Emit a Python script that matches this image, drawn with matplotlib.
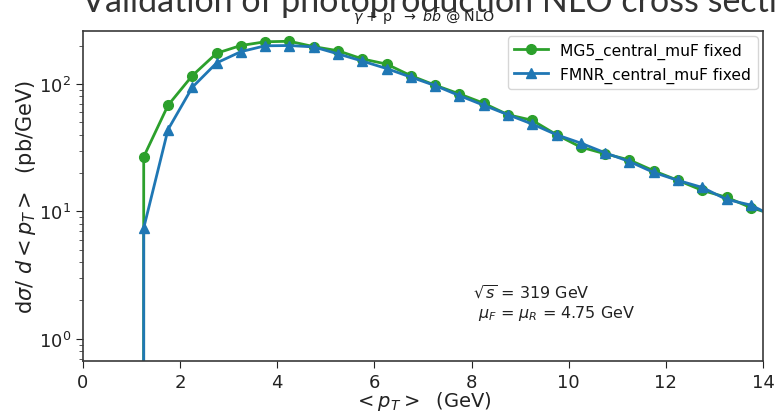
import matplotlib
matplotlib.use('Agg')
import matplotlib.pyplot as plt
import numpy as np

# pT bin centres (GeV); the first bin is empty for both generators
pt_bins = [0.75, 1.25, 1.75, 2.25, 2.75, 3.25, 3.75, 4.25, 4.75, 5.25, 5.75,
           6.25, 6.75, 7.25, 7.75, 8.25, 8.75, 9.25, 9.75, 10.25, 10.75,
           11.25, 11.75, 12.25, 12.75, 13.25, 13.75, 14.25]

# dsigma/dpT in pb/GeV
mg5_xsec = [0.0, 26.8, 67.9, 116.0, 174.0, 200.0, 214.0, 216.0, 196.0, 182.0,
            157.0, 143.0, 116.0, 97.7, 83.4, 70.5, 57.3, 51.8, 39.9, 31.9,
            28.3, 25.3, 20.8, 17.5, 14.6, 12.9, 10.7, 9.35]
fmnr_xsec = [0.0, 7.4, 43.8, 94.0, 146.0, 179.0, 199.0, 200.0, 195.0, 172.0,
             151.0, 132.0, 113.0, 97.0, 80.9, 68.0, 57.3, 48.4, 39.9, 34.3,
             28.8, 24.6, 20.2, 17.5, 15.4, 12.4, 11.2, 9.0]

x_ticks = [0, 2, 4, 6, 8, 10, 12, 14]

fig = plt.figure(figsize=(7.75, 4.14), dpi=100)
ax = fig.add_axes([83 / 775, 52 / 414, 680 / 775, 330 / 414])

ax.plot(pt_bins, mg5_xsec, color='#2ca02c', marker='o', markersize=7,
        linewidth=2, label='MG5_central_muF fixed')
ax.plot(pt_bins, fmnr_xsec, color='#1f77b4', marker='^', markersize=7,
        linewidth=2, label='FMNR_central_muF fixed')

ax.set_yscale('log')
ax.set_xlim(0, 14)
ax.set_ylim(0.67, 260)
ax.set_xticks(x_ticks)

for side in ax.spines.values():
    side.set_color('#3a3a3a')
    side.set_linewidth(1.2)
ax.tick_params(axis='both', which='major', labelsize=13, colors='#222222',
               direction='out', length=5)
ax.tick_params(axis='y', which='minor', direction='out', length=3,
               colors='#3a3a3a')

ax.set_xlabel(r'$< p_T >$  (GeV)', fontsize=14, color='#222222', labelpad=-1)
ax.set_ylabel(r'd$\sigma$/ $d < p_T >$  (pb/GeV)', fontsize=15,
              color='#222222', labelpad=1)

ax.legend(loc='upper right', fontsize=11.2, handlelength=2.2,
          borderaxespad=0.35)

ax.text(0.574, 0.133, r'$\sqrt{s}$ = 319 GeV' + '\n' +
        r' $\mu_F$ = $\mu_R$ = 4.75 GeV',
        transform=ax.transAxes, fontsize=11.5, color='#222222',
        va='baseline', ha='left')

# page title and process line above the axes
fig.text(82 / 775, 1 - 12 / 414, 'Validation of photoproduction NLO cross section',
         family='Lato', fontsize=24.5, color='#333333', ha='left', va='baseline')
fig.text(424 / 775, 1 - 22 / 414, r'$\gamma$ + p  $\rightarrow$ $b\bar{b}$ @ NLO',
         fontsize=10.3, color='#222222', ha='center', va='baseline')

fig.savefig('out.png', dpi=100)
